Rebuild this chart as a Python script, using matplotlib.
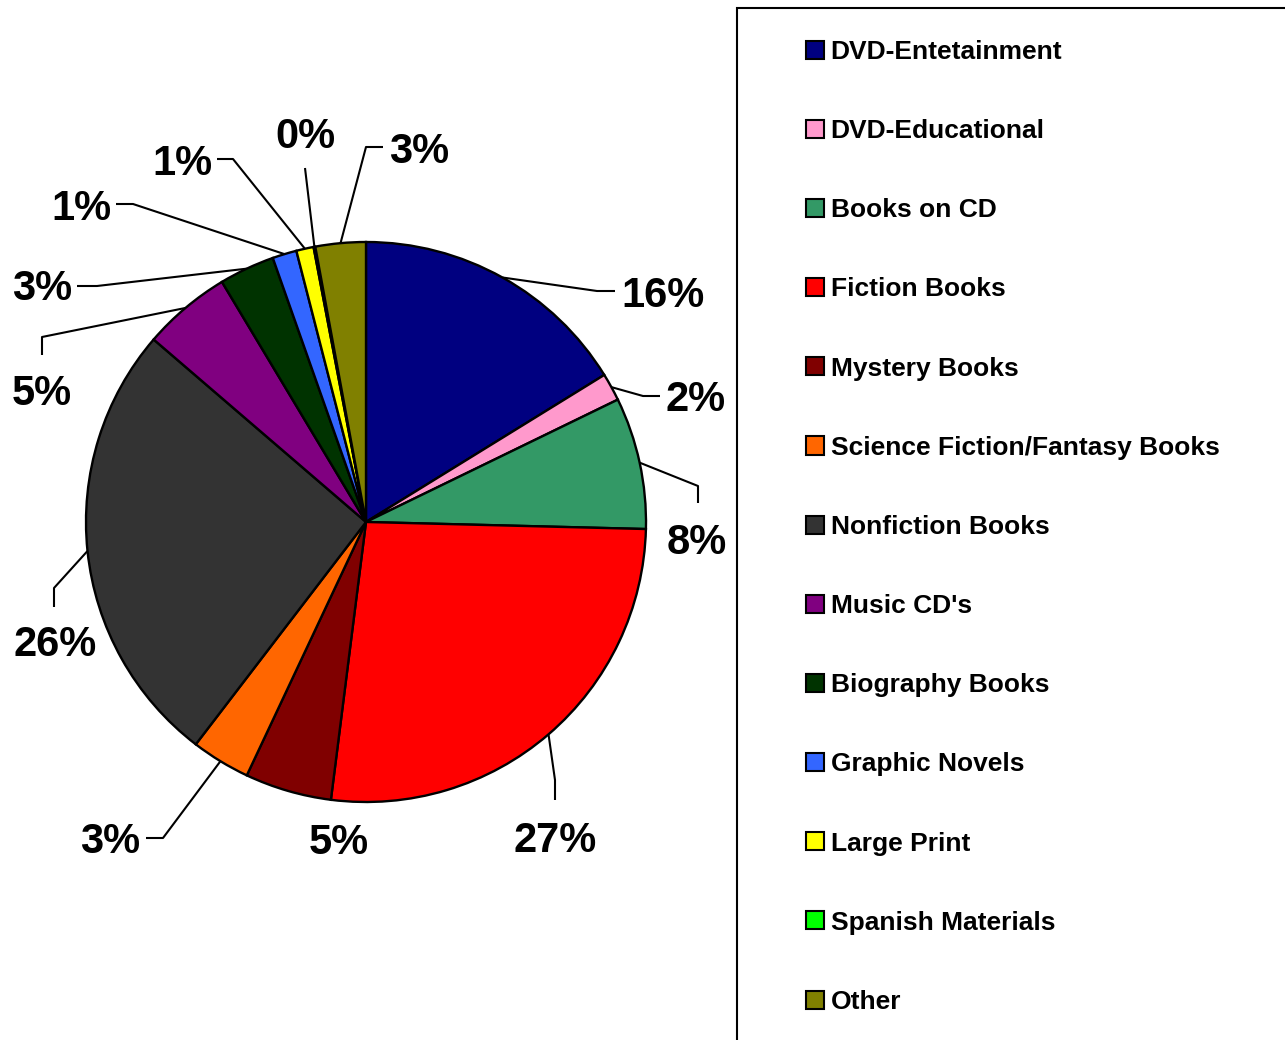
import matplotlib
matplotlib.use("Agg")
from matplotlib import pyplot as plt
from matplotlib.patches import Patch, Rectangle
import numpy as np

plt.rcParams['font.family'] = ['Liberation Sans', 'DejaVu Sans']
plt.rcParams['font.weight'] = 'bold'

# share of collection (percent)
categories = ['DVD-Entetainment', 'DVD-Educational', 'Books on CD', 'Fiction Books',
              'Mystery Books', 'Science Fiction/Fantasy Books', 'Nonfiction Books',
              "Music CD's", 'Biography Books', 'Graphic Novels', 'Large Print',
              'Spanish Materials', 'Other']
shares = [16.2, 1.6, 7.6, 26.6, 5.0, 3.4, 25.9, 5.1, 3.2, 1.4, 1.0, 0.1, 2.9]
colors = ['#000080', '#FF99CC', '#339966', '#FF0000', '#800000', '#FF6600', '#333333',
          '#800080', '#003300', '#3366FF', '#FFFF00', '#00FF00', '#808000']

# label placement (pixels, origin top-left) and leader elbows
label_xy = [(663, 292), (696, 396), (697, 539), (555, 837), (339, 839), (110, 838),
            (55, 641), (42, 390), (42, 285), (81, 205), (182, 160), (305, 133), (419, 148)]
leader_pts = [[(597, 291), (615, 291)], [(643, 396), (660, 396)], [(698, 486), (698, 503)],
              [(555, 780), (555, 800)], [], [(163, 838), (146, 838)],
              [(54, 588), (54, 607)], [(42, 337), (42, 355)], [(97, 286), (77, 286)],
              [(133, 204), (116, 204)], [(233, 159), (217, 159)], [(305, 168)],
              [(366, 147), (383, 147)]]

W, H = 1285, 1040
fig = plt.figure(figsize=(W / 100, H / 100), dpi=100)

# plot area: grey square 86..646 x 242..802 px
ax = fig.add_axes([86 / W, 1 - 802 / H, 560 / W, 560 / H])
ax.set_facecolor('#C0C0C0')
wedges, _ = ax.pie(shares, colors=colors, startangle=90, counterclock=False, radius=1.0,
                   wedgeprops=dict(edgecolor='black', linewidth=1.7))
ax.set_xlim(-1, 1)
ax.set_ylim(-1, 1)
ax.set_aspect('equal')
for s in ax.spines.values():
    s.set_visible(False)
ax.set_xticks([])
ax.set_yticks([])


def px2data(px, py):
    return (px - 366) / 280.0, (522 - py) / 280.0


for w, v, (lx, ly), pts in zip(wedges, shares, label_xy, leader_pts):
    mid = np.deg2rad((w.theta1 + w.theta2) / 2)
    xs = [np.cos(mid)]
    ys = [np.sin(mid)]
    for p in pts:
        dx, dy = px2data(*p)
        xs.append(dx)
        ys.append(dy)
    if pts:
        ax.plot(xs, ys, color='black', lw=1.5, clip_on=False, solid_capstyle='butt')
    tx, ty = px2data(lx, ly + 15)
    ax.text(tx, ty, f"{v:.0f}%", ha='center', va='baseline', fontsize=30,
            fontweight='bold', clip_on=False)

# legend box running off the right and bottom edges
fig.add_artist(Rectangle((737 / W, -0.1), 1.0, (H - 8) / H + 0.1, transform=fig.transFigure,
                         fill=False, edgecolor='black', linewidth=1.5))
handles = [Patch(facecolor=c, edgecolor='black', linewidth=1.5) for c in colors]
fig.legend(handles, categories, loc='upper left', bbox_to_anchor=(806 / W, 1 - 40 / H),
           frameon=False, prop=dict(weight='bold', size=19),
           handlelength=0.68, handleheight=0.68, handletextpad=0.25,
           labelspacing=2.09, borderpad=0, borderaxespad=0)

fig.savefig('out.png', dpi=100)
